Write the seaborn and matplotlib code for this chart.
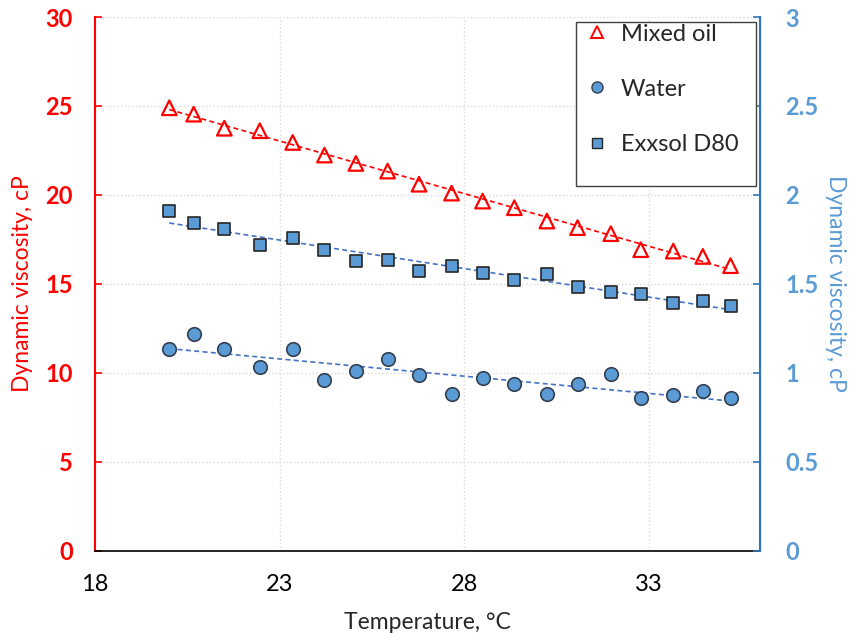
import numpy as np
import pandas as pd
import matplotlib
matplotlib.use("Agg")
import matplotlib.pyplot as plt
import seaborn as sns
from matplotlib.patches import Rectangle
from matplotlib.lines import Line2D

# ---- data ----
temperature = [20.01, 20.67, 21.50, 22.46, 23.35, 24.21, 25.06, 25.92, 26.77, 27.65,
               28.49, 29.35, 30.23, 31.06, 31.96, 32.77, 33.65, 34.45, 35.20]
mixed_oil = [24.90, 24.54, 23.75, 23.61, 22.95, 22.24, 21.77, 21.34, 20.60, 20.10,
             19.65, 19.28, 18.53, 18.16, 17.82, 16.92, 16.84, 16.54, 16.02]
water = [1.136, 1.215, 1.136, 1.033, 1.132, 0.960, 1.012, 1.078, 0.986, 0.883,
         0.971, 0.937, 0.879, 0.934, 0.992, 0.857, 0.874, 0.896, 0.857]
exxsol = [1.909, 1.842, 1.808, 1.716, 1.760, 1.690, 1.630, 1.636, 1.574, 1.602,
          1.561, 1.521, 1.553, 1.484, 1.456, 1.445, 1.392, 1.403, 1.375]
left_ticks = [0, 5, 10, 15, 20, 25, 30]
right_ticks = [0, 0.5, 1, 1.5, 2, 2.5, 3]
right_tick_labels = ["0", "0.5", "1", "1.5", "2", "2.5", "3"]
x_ticks = [18, 23, 28, 33]

df = pd.DataFrame({"T": temperature, "oil": mixed_oil, "water": water, "exxsol": exxsol})

RED = "#FF0000"
BLUE = "#5B9BD5"
BLUE_LINE = "#4472C4"
BLUE_SPINE = "#2E75B6"

sns.set_style("white")
plt.rcParams["font.family"] = ["Lato", "DejaVu Sans"]

fig = plt.figure(figsize=(8.5, 6.33), dpi=100)
ax = fig.add_axes([0.1118, 0.1303, 0.7824, 0.8427])
ax2 = ax.twinx()

# grid
ax.set_axisbelow(True)
ax.grid(True, color="#D9D9D9", ls=":", lw=1.0)

# mixed oil (left axis)
sns.regplot(data=df, x="T", y="oil", ax=ax, scatter=False, ci=None, truncate=True,
            line_kws=dict(color=RED, ls=(0, (3, 2)), lw=1.2))
sns.scatterplot(data=df, x="T", y="oil", ax=ax, marker="^", s=110,
                facecolor="none", edgecolor=RED, linewidth=1.6, zorder=3)

# water & exxsol (right axis)
sns.regplot(data=df, x="T", y="water", ax=ax2, scatter=False, ci=None, truncate=True,
            line_kws=dict(color=BLUE_LINE, ls=(0, (3, 2)), lw=1.2))
sns.regplot(data=df, x="T", y="exxsol", ax=ax2, scatter=False, ci=None, truncate=True,
            line_kws=dict(color=BLUE_LINE, ls=(0, (3, 2)), lw=1.2))
sns.scatterplot(data=df, x="T", y="water", ax=ax2, marker="o", s=95,
                color=BLUE, edgecolor="#333F50", linewidth=1.2, zorder=3)
sns.scatterplot(data=df, x="T", y="exxsol", ax=ax2, marker="s", s=85,
                color=BLUE, edgecolor="#262626", linewidth=1.2, zorder=3)

ax.set_xlim(18, 36)
ax.set_ylim(0, 30)
ax2.set_ylim(0, 3)
ax.set_xticks(x_ticks)
ax.set_yticks(left_ticks)
ax2.set_yticks(right_ticks)
ax2.set_yticklabels(right_tick_labels)

ax.tick_params(axis="x", direction="in", length=5, width=1, colors="black",
               labelsize=17, pad=17)
ax.tick_params(axis="y", direction="in", length=5, width=1.2, colors=RED,
               labelsize=17, pad=16)
ax2.tick_params(axis="y", direction="in", length=5, width=1.2, colors=BLUE_SPINE,
                labelcolor=BLUE, labelsize=17, pad=18)
for lab in ax.get_yticklabels():
    lab.set_fontweight("bold")
for lab in ax2.get_yticklabels():
    lab.set_fontweight("bold")

for a in (ax, ax2):
    a.spines["top"].set_visible(False)
ax.spines["left"].set_color(RED)
ax.spines["left"].set_linewidth(1.5)
ax.spines["bottom"].set_color("black")
ax.spines["bottom"].set_linewidth(1.2)
ax2.spines["right"].set_color(BLUE_SPINE)
ax2.spines["right"].set_linewidth(1.5)
ax2.spines["left"].set_visible(False)
ax2.spines["bottom"].set_visible(False)

ax.set_xlabel("Temperature, °C", fontsize=16.5, labelpad=12)
ax.set_ylabel("Dynamic viscosity, cP", fontsize=16.5, color=RED, labelpad=9)
ax2.set_ylabel("Dynamic viscosity, cP", fontsize=16.5, color=BLUE, rotation=270,
               labelpad=20)

# legend
handles = [
    Line2D([], [], ls="none", marker="^", markersize=8, markerfacecolor="none",
           markeredgecolor=RED, markeredgewidth=1.4),
    Line2D([], [], ls="none", marker="o", markersize=8, markerfacecolor=BLUE,
           markeredgecolor="#333F50", markeredgewidth=1.0),
    Line2D([], [], ls="none", marker="s", markersize=7.5, markerfacecolor=BLUE,
           markeredgecolor="#262626", markeredgewidth=1.0),
]
ax2.add_patch(Rectangle((576 / 850, 1 - 186 / 633), 180 / 850, 164 / 633,
                        transform=fig.transFigure, facecolor="white",
                        edgecolor="#404040", linewidth=1.0, zorder=4, clip_on=False))
leg = ax2.legend(handles, ["Mixed oil", "Water", "Exxsol D80"], loc="upper left",
                 bbox_to_anchor=(569 / 850, 1 - 7 / 633), bbox_transform=fig.transFigure,
                 frameon=False, fontsize=17, labelspacing=1.45, handletextpad=0.5,
                 handlelength=1.0, borderpad=0.2)
leg.set_zorder(5)

fig.savefig("out.png", dpi=100)
